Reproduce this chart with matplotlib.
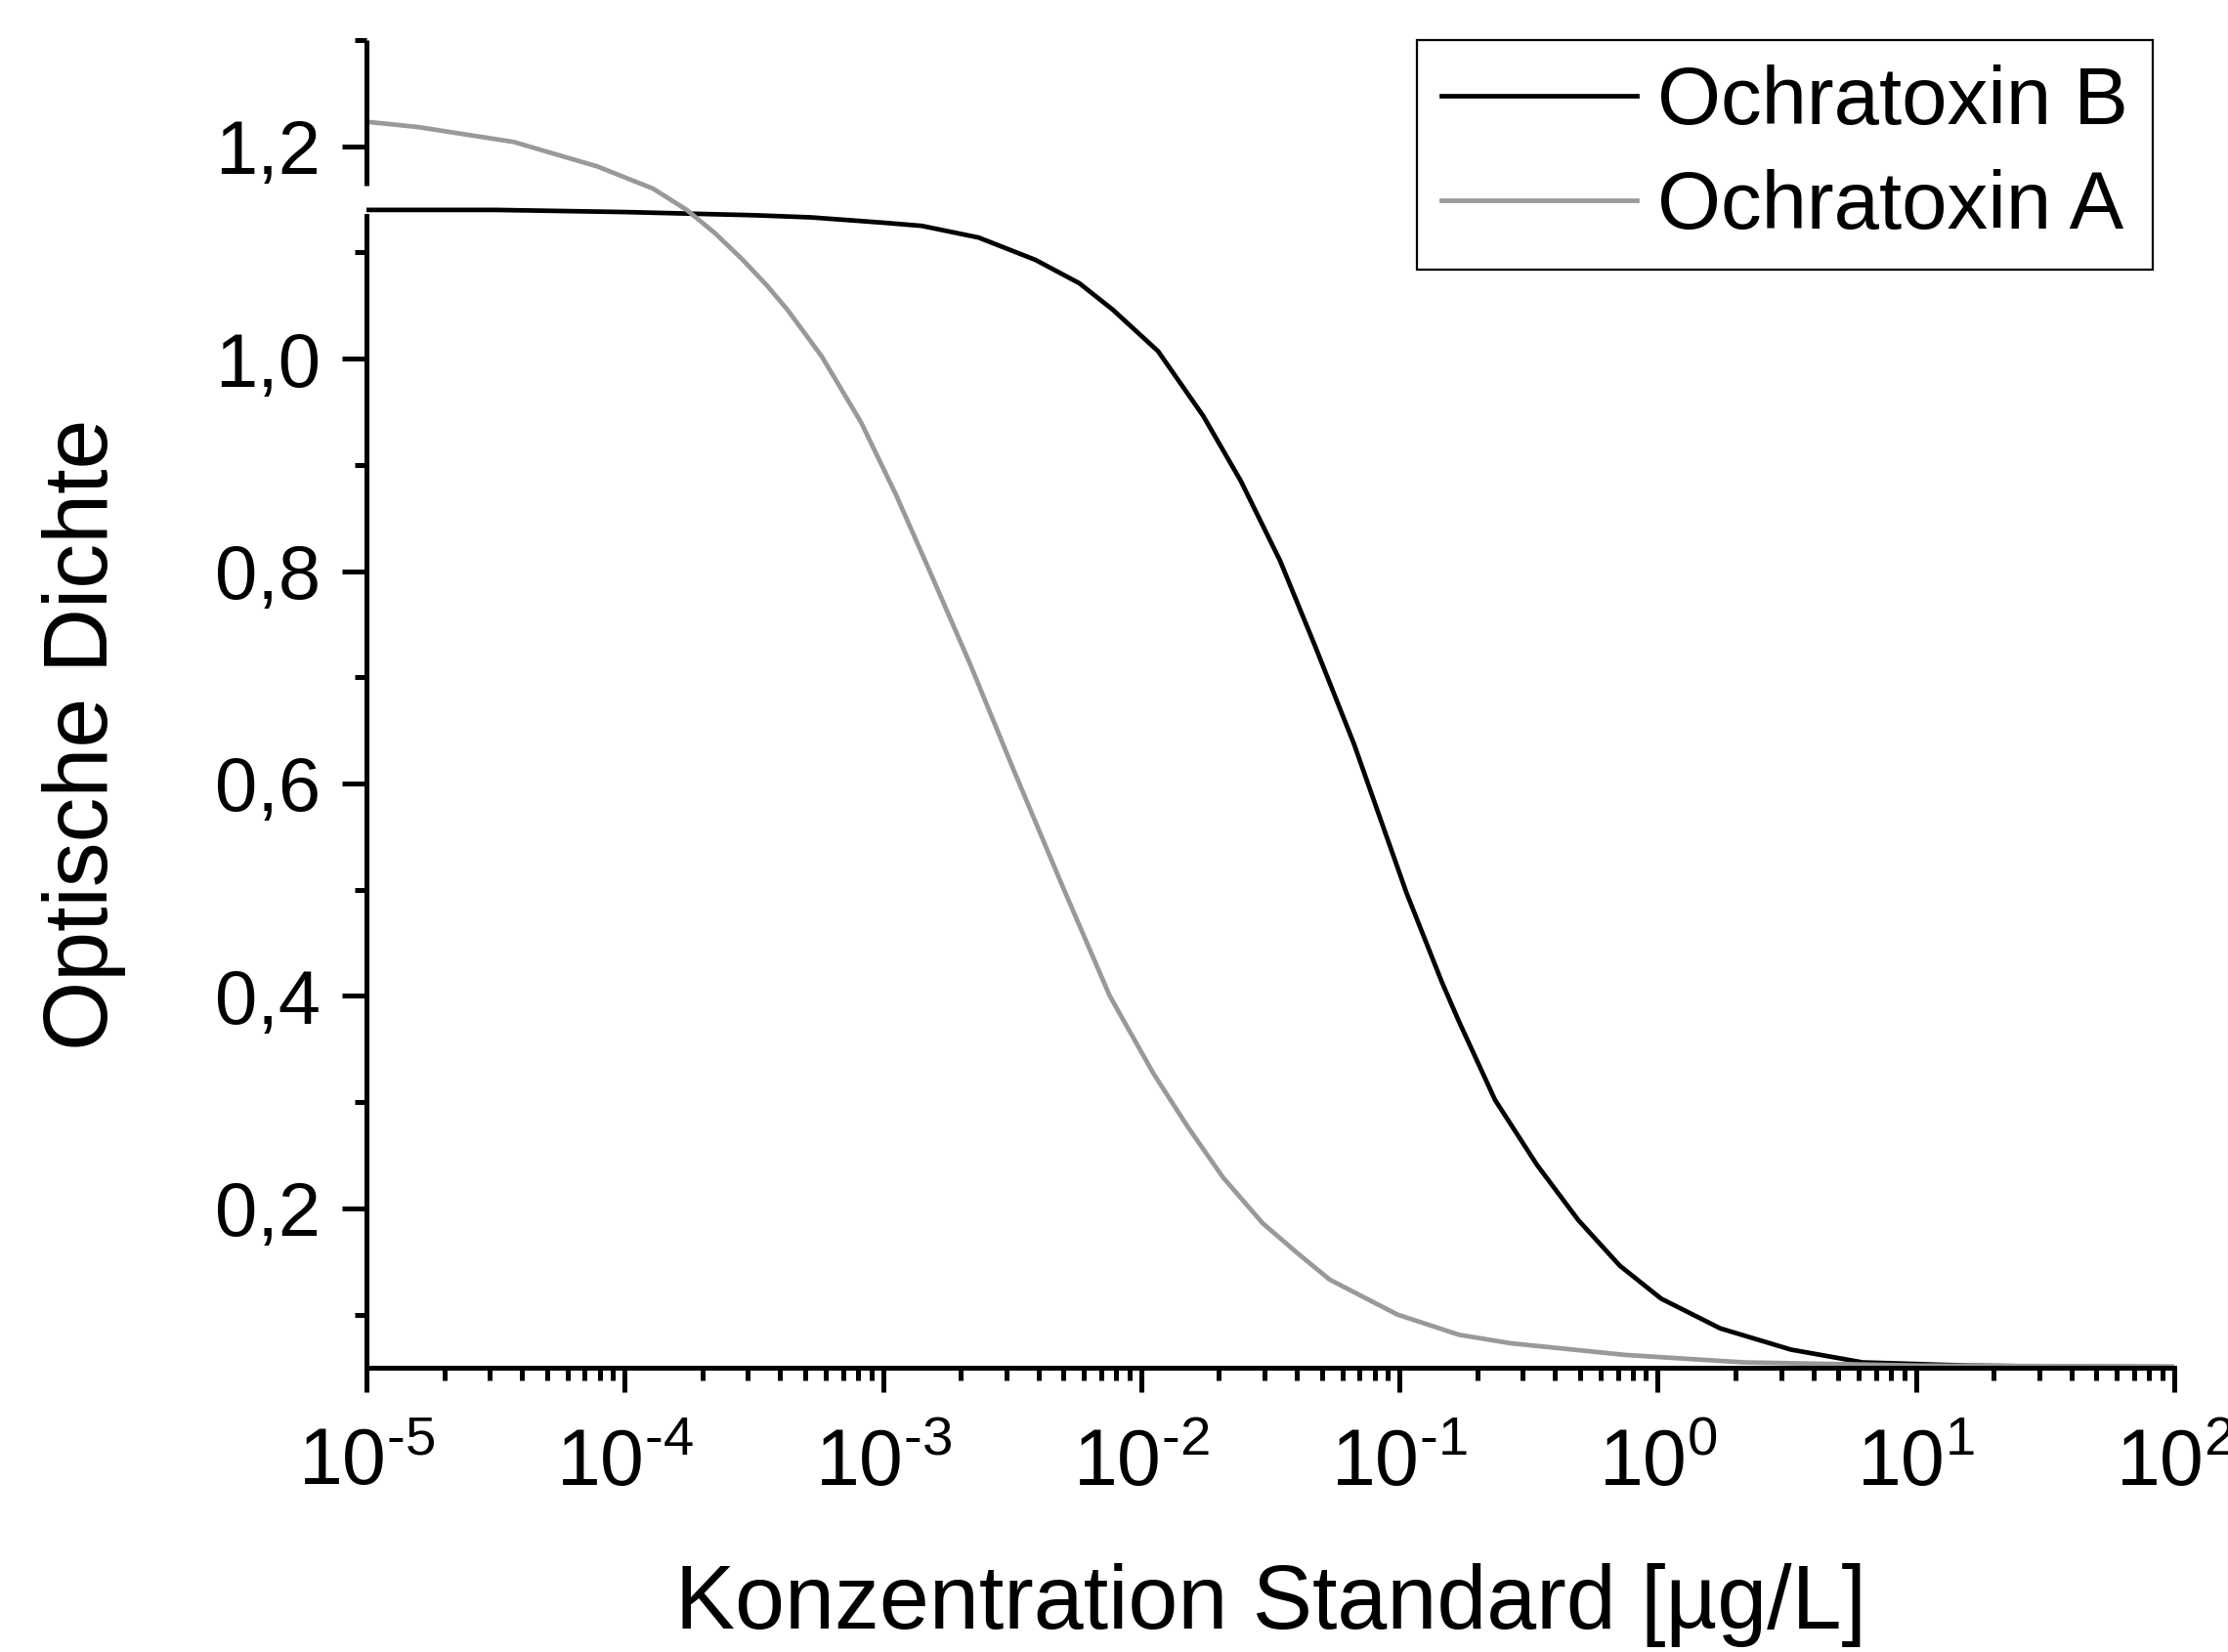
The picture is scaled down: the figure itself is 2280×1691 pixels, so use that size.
import numpy as np
import matplotlib
matplotlib.use("Agg")
import matplotlib.pyplot as plt
from matplotlib.ticker import LogLocator, MultipleLocator, FixedLocator, FuncFormatter

plt.rcParams['font.family'] = ['Liberation Sans', 'DejaVu Sans']
plt.rcParams['mathtext.fontset'] = 'custom'
plt.rcParams['mathtext.rm'] = 'Liberation Sans'
plt.rcParams['mathtext.it'] = 'Liberation Sans:italic'

# log10 of concentration [ug/L] and optical density
ota_b_logx = [-5.0, -4.5, -4.0, -3.5, -3.28, -3.0, -2.85, -2.63, -2.41, -2.24,
              -2.11, -1.935, -1.76, -1.615, -1.463, -1.328, -1.176, -1.108,
              -0.973, -0.836, -0.77, -0.63, -0.468, -0.308, -0.147, 0.013,
              0.242, 0.516, 0.793, 1.2, 1.6, 2.0]
ota_b_od = [1.140, 1.140, 1.138, 1.135, 1.133, 1.128, 1.125, 1.114, 1.093, 1.071,
            1.046, 1.007, 0.946, 0.885, 0.810, 0.730, 0.637, 0.590,
            0.497, 0.413, 0.376, 0.302, 0.241, 0.189, 0.146, 0.115,
            0.087, 0.067, 0.055, 0.052, 0.051, 0.0507]

ota_a_logx = [-5.0, -4.8, -4.43, -4.107, -3.89, -3.76, -3.65, -3.543, -3.45, -3.37,
              -3.237, -3.085, -2.95, -2.814, -2.662, -2.493, -2.308, -2.122, -1.953,
              -1.818, -1.683, -1.53, -1.396, -1.271, -1.008, -0.77, -0.57,
              -0.125, 0.334, 1.022, 2.0]
ota_a_od = [1.223, 1.218, 1.204, 1.181, 1.160, 1.140, 1.118, 1.093, 1.069, 1.046,
            1.002, 0.940, 0.872, 0.797, 0.712, 0.612, 0.505, 0.400, 0.327,
            0.276, 0.229, 0.186, 0.158, 0.133, 0.100, 0.081, 0.073,
            0.062, 0.055, 0.052, 0.051]

y_major = [0.2, 0.4, 0.6, 0.8, 1.0, 1.2]
series_names = ['Ochratoxin B', 'Ochratoxin A']


def log_label(v, pos):
    e = int(round(np.log10(v)))
    if e < 0:
        return r'$\mathdefault{10^{\text{-%d}}}$' % (-e)
    return r'$\mathdefault{10^{%d}}$' % e


fig = plt.figure(figsize=(11.4, 8.455), dpi=200)
ax = fig.add_axes([0.1645, 0.1721, 0.8114, 0.8037])

ax.plot(10 ** np.array(ota_b_logx), ota_b_od, color='black', lw=1.7, label=series_names[0])
ax.plot(10 ** np.array(ota_a_logx), ota_a_od, color='#999999', lw=1.7, label=series_names[1])

ax.set_xscale('log')
ax.set_xlim(1e-5, 1e2)
ax.set_ylim(0.05, 1.30)

ax.xaxis.set_major_locator(LogLocator(base=10, numticks=20))
ax.xaxis.set_minor_locator(LogLocator(base=10, subs=np.arange(2, 10), numticks=20))
ax.xaxis.set_major_formatter(FuncFormatter(log_label))
ax.yaxis.set_major_locator(FixedLocator(y_major))
ax.yaxis.set_minor_locator(MultipleLocator(0.1))
ax.yaxis.set_major_formatter(FuncFormatter(lambda v, p: ('%.1f' % v).replace('.', ',')))

for s in ['top', 'right']:
    ax.spines[s].set_visible(False)
for s in ['left', 'bottom']:
    ax.spines[s].set_linewidth(1.8)
# axis break on the left spine
ax.spines['left'].set_bounds(0.05, 1.134)
ax.plot([0, 0], [1.163, 1.30], transform=ax.get_yaxis_transform(), color='black',
        lw=1.8, clip_on=False, solid_capstyle='butt')

ax.tick_params(which='major', direction='out', length=9, width=1.8, labelsize=28, pad=8)
ax.tick_params(which='minor', direction='out', length=4.5, width=1.8)
ax.tick_params(axis='x', which='major', pad=13, labelsize=29)

ax.set_xlabel('Konzentration Standard [µg/L]', fontsize=33)
ax.set_ylabel('Optische Dichte', fontsize=33)
ax.xaxis.set_label_coords(0.5, -0.147)
ax.yaxis.set_label_coords(-0.133, 0.477)

leg = ax.legend(loc='upper right', bbox_to_anchor=(0.988, 1.0), fontsize=30,
                frameon=True, fancybox=False, handlelength=2.4, handletextpad=0.25,
                borderpad=0.3, labelspacing=0.35, borderaxespad=0)
leg.get_frame().set_edgecolor('black')
leg.get_frame().set_linewidth(0.8)
leg.get_frame().set_alpha(1)

fig.savefig('out.png', dpi=200)
